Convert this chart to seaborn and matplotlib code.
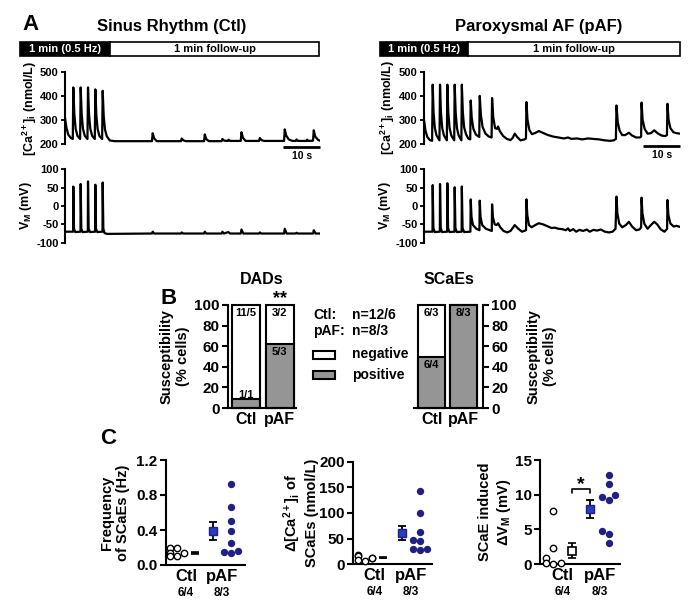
import matplotlib
matplotlib.use("Agg")
import matplotlib.pyplot as plt
from matplotlib.patches import Rectangle
from matplotlib.transforms import blended_transform_factory
import seaborn as sns

# ---------------- data ----------------
# Panel A: traces as (time in s, value) vertices
ctl_ca = [(0, 310), (0.4, 268), (0.9, 240), (1.6, 226), (2.12, 222), (2.27, 436), (2.55, 325), (2.9, 264),
          (3.4, 235), (4.12, 222), (4.27, 436), (4.55, 325), (4.9, 264), (5.4, 235), (6.12, 222), (6.27, 436),
          (6.55, 325), (6.9, 264), (7.4, 235), (8.12, 222), (8.27, 428), (8.55, 320), (8.9, 262), (9.4, 234),
          (10.12, 222), (10.27, 422), (10.55, 318), (10.9, 261), (11.4, 233), (12.2, 216), (13.5, 213),
          (23.7, 213), (23.9, 246), (24.3, 225), (25.0, 213), (31.6, 213), (31.8, 224), (32.3, 216), (33.0, 213),
          (37.9, 213), (38.1, 241), (38.5, 222), (39.2, 213), (42.7, 213), (42.9, 222), (43.4, 215), (44.4, 214),
          (44.6, 219), (45.0, 214), (47.9, 214), (48.1, 250), (48.5, 227), (49.2, 214), (52.9, 214), (53.1, 226),
          (53.6, 217), (54.3, 214), (59.7, 214), (59.9, 262), (60.3, 236), (61.0, 220), (62.0, 214), (62.9, 214),
          (63.1, 220), (63.5, 214), (65.8, 214), (66.0, 219), (66.3, 214), (67.6, 215), (67.8, 258), (68.2, 232),
          (69.0, 218), (69.5, 215)]
ctl_vm = [(0, -70), (2.22, -70), (2.27, 53), (2.45, -62), (2.8, -71), (4.22, -70), (4.27, 60), (4.45, -62),
          (4.8, -71), (6.22, -70), (6.27, 67), (6.45, -62), (6.8, -71), (8.22, -70), (8.27, 58), (8.45, -62),
          (8.8, -71), (10.22, -70), (10.27, 64), (10.45, -62), (10.8, -74), (11.5, -76), (23.7, -75), (23.9, -70),
          (24.3, -75), (31.6, -75), (31.8, -72), (32.2, -75), (37.9, -75), (38.1, -70), (38.5, -75), (42.7, -75),
          (42.9, -70), (43.3, -75), (44.5, -71), (45.0, -75), (47.9, -75), (48.1, -64), (48.6, -75), (52.9, -75),
          (53.1, -72), (53.5, -75), (59.7, -75), (59.9, -62), (60.4, -75), (62.9, -75), (63.1, -73), (63.5, -75),
          (67.6, -75), (67.8, -66), (68.3, -75), (69.5, -75)]
paf_ca = [(0, 300), (0.4, 255), (0.9, 228), (1.6, 215), (2.2, 212), (2.36, 447), (2.6, 330), (2.95, 265),
          (3.4, 235), (4.2, 214), (4.35, 447), (4.6, 330), (4.95, 265), (5.4, 235), (6.2, 214), (6.34, 447),
          (6.6, 330), (6.95, 265), (7.4, 235), (8.2, 214), (8.33, 447), (8.6, 330), (8.95, 265), (9.4, 235),
          (10.15, 214), (10.27, 447), (10.55, 330), (10.9, 268), (11.4, 240), (12.0, 222), (12.55, 218),
          (12.68, 381), (12.95, 310), (13.4, 262), (14.1, 238), (15.0, 228), (15.13, 400), (15.45, 320),
          (15.9, 270), (16.7, 242), (17.6, 230), (18.35, 226), (18.48, 391), (18.8, 310), (19.3, 265),
          (19.8, 262), (20.11, 272), (20.6, 252), (21.5, 232), (22.5, 220), (23.5, 215), (24.1, 225),
          (24.64, 242), (25.3, 228), (26.2, 214), (27.3, 218), (27.68, 222), (27.81, 374), (28.1, 300),
          (28.6, 258), (29.3, 240), (30.2, 245), (31.16, 253), (32.2, 246), (33.5, 237), (35.0, 230),
          (36.5, 226), (38.0, 222), (39.1, 226), (40.0, 220), (41.5, 222), (43.0, 218), (44.5, 222),
          (46.0, 220), (47.5, 218), (49.1, 214), (50.5, 212), (51.5, 214), (52.1, 220), (52.26, 360),
          (52.6, 290), (53.1, 255), (53.8, 236), (54.6, 236), (55.62, 246), (56.5, 234), (57.6, 226),
          (58.6, 226), (58.95, 230), (59.06, 372), (59.35, 300), (59.9, 262), (60.7, 242), (61.6, 244),
          (62.5, 256), (63.4, 244), (64.5, 234), (65.5, 232), (65.95, 236), (66.1, 367), (66.4, 300),
          (66.9, 265), (67.7, 248), (68.6, 244), (69.5, 242)]
paf_vm = [(0, -70), (2.31, -70), (2.36, 57), (2.55, -60), (2.9, -71), (4.3, -70), (4.35, 60), (4.55, -60),
          (4.9, -71), (6.29, -70), (6.34, 62), (6.54, -60), (6.9, -71), (8.28, -70), (8.33, 51), (8.53, -60),
          (8.9, -71), (10.22, -70), (10.27, 53), (10.47, -60), (10.9, -71), (12.6, -70), (12.68, 18),
          (12.9, -30), (13.3, -52), (14.2, -62), (15.05, -66), (15.13, 14.5), (15.35, -30), (15.8, -52),
          (16.8, -62), (18.4, -68), (18.48, 4.5), (18.7, -30), (19.2, -50), (19.7, -52), (20.11, -47),
          (20.7, -58), (21.6, -68), (22.6, -72), (23.5, -68), (24.64, -52), (25.6, -62), (26.6, -70),
          (27.7, -66), (27.81, 18), (28.05, -25), (28.5, -52), (29.2, -58), (30.2, -52), (31.16, -47),
          (32.3, -50), (33.5, -55), (34.6, -60), (35.5, -59), (36.5, -62), (37.5, -63), (38.5, -66),
          (39.1, -61), (39.6, -68), (40.5, -63), (41.3, -70), (42.2, -65), (43.2, -68), (44.2, -64),
          (45.0, -70), (46.0, -65), (47.0, -67), (48.0, -64), (49.1, -70), (50.2, -72), (51.2, -70),
          (52.0, -62), (52.26, 25.5), (52.5, -20), (53.0, -48), (53.8, -58), (54.8, -52), (55.62, -43),
          (56.5, -56), (57.6, -66), (58.5, -64), (58.95, -58), (59.06, 22.7), (59.3, -20), (59.8, -48),
          (60.7, -62), (61.6, -52), (62.5, -43), (63.3, -50), (64.3, -64), (65.3, -70), (66.0, -62),
          (66.1, 16.4), (66.35, -25), (66.9, -48), (67.8, -56), (68.6, -54), (69.5, -57)]
T_END = 69.5
SCALE_S = 10

# Panel B: % of cells positive, n labels (cells/patients)
groups = ["Ctl", "pAF"]
dad_positive = [1 / 12 * 100, 5 / 8 * 100]
dad_neg_n = ["11/5", "3/2"]
dad_pos_n = ["1/1", "5/3"]
scae_positive = [6 / 12 * 100, 8 / 8 * 100]
scae_neg_n = ["6/3", ""]
scae_pos_n = ["6/4", "8/3"]

# Panel C: individual cells and mean +/- SEM
freq_ctl = [0.19, 0.19, 0.14, 0.14, 0.10, 0.10]
freq_paf = [0.93, 0.66, 0.50, 0.39, 0.25, 0.16, 0.145, 0.14]
freq_mean = [0.14, 0.39]
freq_sem = [0.012, 0.10]
dca_ctl = [19, 17, 13, 12, 9, 7]
dca_paf = [143, 100, 63, 48, 46, 30, 28, 30]
dca_mean = [13, 61]
dca_sem = [1.5, 14.6]
dvm_ctl = [7.7, 2.3, 0.8, 0.2, 0.1, 0.0]
dvm_paf = [12.8, 11.5, 9.9, 9.6, 9.3, 4.7, 4.3, 3.0]
dvm_mean = [1.9, 8.0]
dvm_sem = [1.1, 1.3]
n_labels = ["6/4", "8/3"]

GREY = "#959595"
NAVY = "#1f1f86"
BLUE = "#2a3cc0"

sns.set_style("ticks", rc={"axes.edgecolor": "black", "xtick.color": "black", "ytick.color": "black",
                           "text.color": "black", "axes.labelcolor": "black"})
plt.rcParams["font.family"] = ["Liberation Sans", "DejaVu Sans"]
plt.rcParams["font.weight"] = "bold"
plt.rcParams["axes.labelweight"] = "bold"
plt.rcParams["axes.unicode_minus"] = False
plt.rcParams["mathtext.fontset"] = "custom"
plt.rcParams["mathtext.rm"] = "Liberation Sans:bold"
plt.rcParams["mathtext.bf"] = "Liberation Sans:bold"
plt.rcParams["mathtext.it"] = "Liberation Sans:bold"
plt.rcParams["mathtext.default"] = "bf"

W, H = 695, 609
fig = plt.figure(figsize=(W / 100, H / 100), dpi=100)


def px_ax(x0, y0, x1, y1):
    return fig.add_axes([x0 / W, 1 - y1 / H, (x1 - x0) / W, (y1 - y0) / H])


def ftext(x, y, s, **kw):
    kw.setdefault("fontweight", "bold")
    fig.text(x / W, 1 - y / H, s, **kw)


def frect(x0, y0, x1, y1, fc, lw=1.2):
    fig.add_artist(Rectangle((x0 / W, 1 - y1 / H), (x1 - x0) / W, (y1 - y0) / H,
                             transform=fig.transFigure, fc=fc, ec="black", lw=lw))


def trace_panel(box, pts, ylim, yticks, ylabel, lab_off, scalebar=False):
    ax = px_ax(*box)
    t = [p[0] for p in pts]
    v = [p[1] for p in pts]
    sns.lineplot(x=t, y=v, ax=ax, color="black", lw=1.6, estimator=None, sort=False)
    ax.set_xlim(0, T_END)
    ax.set_ylim(*ylim)
    for s in ["top", "right", "bottom"]:
        ax.spines[s].set_visible(False)
    ax.spines["left"].set_linewidth(1.5)
    ax.set_xticks([])
    ax.set_yticks(yticks)
    ax.tick_params(axis="y", length=3, width=1.3, labelsize=8, pad=1.5)
    ax.set_xlabel("")
    ax.set_ylabel(ylabel, fontsize=9)
    ax.yaxis.set_label_coords(lab_off / (box[2] - box[0]), 0.5)
    ax.patch.set_alpha(0)
    if scalebar:
        ax.plot([T_END - SCALE_S, T_END], [190, 190], color="black", lw=2, clip_on=False,
                solid_capstyle="butt")
        ax.text(T_END - SCALE_S / 2, 152, "10 s", ha="center", va="center", fontsize=7.5)
    return ax


# ---------------- panel A ----------------
ftext(22, 25, "A", fontsize=16, va="center")
ftext(172, 27, "Sinus Rhythm (Ctl)", fontsize=12, ha="center", va="center")
ftext(539, 27, "Paroxysmal AF (pAF)", fontsize=12, ha="center", va="center")
for x0, xm, x1 in [(20, 110, 319), (380, 468, 680)]:
    frect(x0, 42, xm, 55.5, "black")
    frect(xm, 42, x1, 55.5, "white")
    ftext((x0 + xm) / 2, 49, "1 min (0.5 Hz)", color="white", fontsize=8, ha="center", va="center")
    ftext((xm + x1) / 2, 49, "1 min follow-up", fontsize=8, ha="center", va="center")

ca_label = r"[Ca$^{2+}$]$_{i}$ (nmol/L)"
vm_label = r"V$_{M}$ (mV)"
trace_panel((65, 72, 320, 144.3), ctl_ca, (200, 500), [200, 300, 400, 500], ca_label, -26, scalebar=True)
trace_panel((65, 169.3, 320, 242.7), ctl_vm, (-100, 100), [-100, -50, 0, 50, 100], vm_label, -31)
trace_panel((424, 72, 680, 143.7), paf_ca, (200, 500), [200, 300, 400, 500], ca_label, -27, scalebar=True)
trace_panel((424, 169.3, 680, 242.7), paf_vm, (-100, 100), [-100, -50, 0, 50, 100], vm_label, -31)


# ---------------- panel B ----------------
def bar_panel(box, positive, neg_n, pos_n, xlim, side, title):
    ax = px_ax(*box)
    sns.barplot(x=groups, y=[100, 100], color="white", edgecolor="black", linewidth=1.5, width=0.84,
                saturation=1, errorbar=None, ax=ax)
    sns.barplot(x=groups, y=positive, color=GREY, edgecolor="black", linewidth=1.5, width=0.84,
                saturation=1, errorbar=None, ax=ax)
    for p in ax.patches:
        p.set_clip_on(False)
    ax.set_xlim(*xlim)
    ax.set_ylim(0, 100)
    ax.set_yticks(range(0, 101, 20))
    ax.set_xticks([0, 1])
    ax.set_xticklabels(groups, fontsize=11.5)
    ax.tick_params(axis="x", length=0, pad=3)
    ax.tick_params(axis="y", length=4, width=1.5, labelsize=11, pad=2)
    ax.spines["top"].set_visible(False)
    ax.spines["bottom"].set_linewidth(1.5)
    w = box[2] - box[0]
    if side == "left":
        ax.spines["right"].set_visible(False)
        ax.spines["left"].set_linewidth(1.5)
        ax.set_ylabel("Susceptibility\n(% cells)", fontsize=10.5)
        ax.yaxis.set_label_coords(-38 / w, 0.5)
    else:
        ax.spines["left"].set_visible(False)
        ax.spines["right"].set_linewidth(1.5)
        ax.yaxis.tick_right()
        ax.yaxis.set_label_position("right")
        ax.set_ylabel("Susceptibility\n(% cells)", fontsize=10.5)
        ax.yaxis.set_label_coords(113 / w, 0.5)
    ax.set_xlabel("")
    for i in range(2):
        if neg_n[i]:
            ax.text(i, 92, neg_n[i], ha="center", va="center", fontsize=8)
        ypos = positive[i] - 8 if positive[i] > 20 else positive[i] + 4.5
        ax.text(i, ypos, pos_n[i], ha="center", va="center", fontsize=8)
    ax.text(0.5, 1 + 25 / 103, title, transform=ax.transAxes, ha="center", va="center", fontsize=11.5)
    return ax


ftext(160, 298, "B", fontsize=16, va="center")
dad_ax = bar_panel((228, 305, 296, 408), dad_positive, dad_neg_n, dad_pos_n, (-0.54, 1.49), "left", "DADs")
dad_ax.text(1, 105.8, "**", ha="center", va="center", fontsize=13, clip_on=False)
bar_panel((414, 305, 483, 408), scae_positive, scae_neg_n, scae_pos_n, (-0.55, 1.61), "right", "SCaEs")

ftext(313, 315, "Ctl:", fontsize=10, va="center")
ftext(352, 315, "n=12/6", fontsize=10, va="center")
ftext(313, 331, "pAF:", fontsize=10, va="center")
ftext(352, 331, "n=8/3", fontsize=10, va="center")
frect(313, 350.5, 335, 358.5, "white", lw=1.5)
frect(313, 371, 335, 379, GREY, lw=1.5)
ftext(352, 354, "negative", fontsize=10, va="center")
ftext(352, 375, "positive", fontsize=10, va="center")


# ---------------- panel C ----------------
def dot_panel(box, ctl, paf, means, sems, ctl_fmt, ylim, yticks, ticklabels, ylabel, lab_off, xlim):
    ax = px_ax(*box)
    order = ["Ctl", "ctl_mean", "paf_mean", "pAF"]
    sns.swarmplot(x=["Ctl"] * len(ctl), y=ctl, order=order, ax=ax, color="white", edgecolor="black",
                  linewidth=1.0, size=4.6)
    sns.swarmplot(x=["pAF"] * len(paf), y=paf, order=order, ax=ax, color=NAVY, size=5.3)
    for c in ax.collections:
        c.set_clip_on(False)
    ax.errorbar([1], [means[0]], yerr=[sems[0]], fmt=ctl_fmt, ms=5.5, mfc="white", mec="black",
                color="black", capsize=3, elinewidth=1.3, capthick=1.3, mew=1.2, clip_on=False)
    ax.errorbar([2], [means[1]], yerr=[sems[1]], fmt="s", ms=6, mfc=BLUE, mec=NAVY,
                color="black", capsize=3, elinewidth=1.3, capthick=1.3, clip_on=False)
    ax.set_xlim(*xlim)
    ax.set_ylim(*ylim)
    ax.set_yticks(yticks)
    ax.set_yticklabels(ticklabels)
    ax.set_xticks([0.5, 2.5])
    ax.set_xticklabels(groups, fontsize=12)
    ax.tick_params(axis="x", length=0, pad=3)
    ax.tick_params(axis="y", length=4, width=1.5, labelsize=11, pad=2)
    ax.spines["top"].set_visible(False)
    ax.spines["right"].set_visible(False)
    ax.spines["left"].set_linewidth(1.5)
    ax.spines["bottom"].set_linewidth(1.5)
    ax.set_xlabel("")
    ax.set_ylabel(ylabel, fontsize=10.5)
    ax.yaxis.set_label_coords(lab_off / (box[2] - box[0]), 0.5)
    tr = blended_transform_factory(ax.transData, ax.transAxes)
    hpx = box[3] - box[1]
    for xpos, lab in zip([0.5, 2.5], n_labels):
        ax.text(xpos, -28 / hpx, lab, transform=tr, ha="center", va="center", fontsize=8.5)
    ax.patch.set_alpha(0)
    return ax


ftext(100, 438.5, "C", fontsize=16, va="center")
dot_panel((166, 460, 245, 565), freq_ctl, freq_paf, freq_mean, freq_sem, "_", (0, 1.2),
          [0, 0.4, 0.8, 1.2], ["0.0", "0.4", "0.8", "1.2"], "Frequency\nof SCaEs (Hz)", -36, (-0.61, 3.78))
dot_panel((353, 461.7, 432, 564.3), dca_ctl, dca_paf, dca_mean, dca_sem, "_", (0, 200),
          [0, 50, 100, 150, 200], ["0", "50", "100", "150", "200"],
          "Δ[Ca$^{2+}$]$_{i}$ of\nSCaEs (nmol/L)", -34, (-0.66, 3.66))
ax3 = dot_panel((540, 460, 620, 564), dvm_ctl, dvm_paf, dvm_mean, dvm_sem, "s", (0, 15),
                [0, 5, 10, 15], ["0", "5", "10", "15"], "SCaE induced\nΔV$_{M}$ (mV)", -27, (-0.7, 3.59))
ax3.plot([1, 1, 2, 2], [10.2, 10.8, 10.8, 10.2], color="black", lw=1.2)
ax3.text(1.5, 11.4, "*", ha="center", va="center", fontsize=14)

fig.savefig("out.png", dpi=100)
